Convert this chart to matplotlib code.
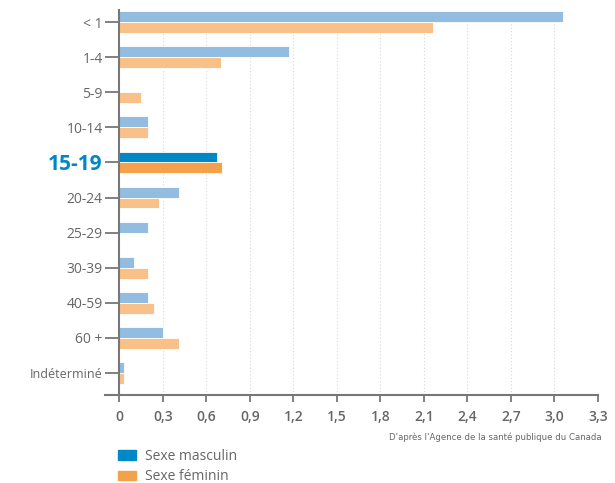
import matplotlib.pyplot as plt
from matplotlib.patches import Patch
import numpy as np

plt.rcParams['font.family'] = ['Open Sans', 'DejaVu Sans']

categories = ['< 1', '1-4', '5-9', '10-14', '15-19', '20-24', '25-29',
              '30-39', '40-59', '60 +', 'Indéterminé']
masculin = [3.06, 1.17, 0.0, 0.20, 0.67, 0.41, 0.20, 0.10, 0.20, 0.30, 0.03]
feminin = [2.16, 0.70, 0.15, 0.20, 0.71, 0.27, 0.0, 0.20, 0.24, 0.41, 0.03]
highlight = '15-19'
xticks = [0, 0.3, 0.6, 0.9, 1.2, 1.5, 1.8, 2.1, 2.4, 2.7, 3.0, 3.3]
xticklabels = ['0', '0,3', '0,6', '0,9', '1,2', '1,5', '1,8', '2,1', '2,4', '2,7', '3,0', '3,3']

blue_light, blue_dark = '#93bde0', '#0088c6'
orange_light, orange_dark = '#f9c187', '#f5a04a'
grey = '#666666'

fig = plt.figure(figsize=(6.15, 4.83), dpi=100)
ax = fig.add_axes([0.1707, 0.182, 0.8016, 0.797])

y = np.arange(len(categories))
h = 0.31
mcol = [blue_dark if c == highlight else blue_light for c in categories]
fcol = [orange_dark if c == highlight else orange_light for c in categories]
ax.barh(y - h / 2, masculin, height=h, color=mcol, edgecolor='white', linewidth=0.6, zorder=3)
ax.barh(y + h / 2, feminin, height=h, color=fcol, edgecolor='white', linewidth=0.6, zorder=3)

ax.set_xlim(-0.1, 3.3)
ax.set_ylim(len(categories) - 1 + 0.63, -0.34)

for xv in xticks[1:]:
    ax.axvline(xv, color='#d8d8d8', linestyle=(0, (1, 2)), linewidth=0.8, zorder=1)

for s in ['top', 'right']:
    ax.spines[s].set_visible(False)
ax.spines['left'].set_position(('data', 0))
ax.spines['left'].set_color('#777777')
ax.spines['left'].set_linewidth(1.5)
ax.spines['left'].set_zorder(4)
ax.spines['bottom'].set_color('#777777')
ax.spines['bottom'].set_linewidth(1.5)

ax.set_yticks(y)
ax.set_yticklabels(categories)
ax.tick_params(axis='y', length=10, width=1.3, color='#777777', labelcolor=grey,
               labelsize=10, pad=2)
for lab in ax.get_yticklabels():
    if lab.get_text() == highlight:
        lab.set_color(blue_dark)
        lab.set_fontsize(15)
        lab.set_fontweight('bold')
    elif lab.get_text() == 'Indéterminé':
        lab.set_fontsize(9)

ax.set_xticks(xticks)
ax.set_xticklabels(xticklabels)
ax.tick_params(axis='x', length=5, width=1.3, color='#777777', labelcolor=grey,
               labelsize=10, pad=6)
for lab in ax.get_xticklabels():
    lab.set_fontweight('semibold')

fig.text(0.978, 0.095, "D'après l'Agence de la santé publique du Canada",
         ha='right', va='center', fontsize=6.8, color=grey,
         family=['DejaVu Sans'], stretch='condensed')

handles = [Patch(color=blue_dark, label='Sexe masculin'),
           Patch(color=orange_dark, label='Sexe féminin')]
fig.legend(handles=handles, loc='upper left', bbox_to_anchor=(0.18, 0.085),
           frameon=False, fontsize=10, labelcolor=grey, handlelength=1.3,
           handleheight=0.7, handletextpad=0.7, labelspacing=0.4, borderpad=0)

fig.savefig('out.png', dpi=100)
